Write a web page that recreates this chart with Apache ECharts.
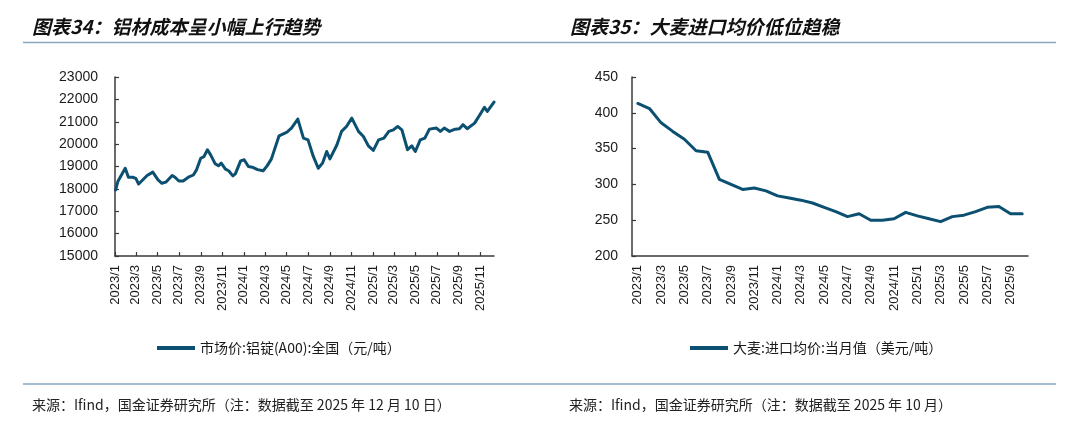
<!DOCTYPE html>
<html>
<head>
<meta charset="utf-8">
<script src="https://cdn.jsdelivr.net/npm/echarts@6/dist/echarts.min.js"></script>
<style>
html,body{margin:0;padding:0;background:#fff;}
#chart{width:1080px;height:426px;}
</style>
</head>
<body>
<div id="chart"></div>
<script>
// ---- Left chart: 市场价:铝锭(A00):全国（元/吨）
const alDates = ['2023-01-03','2023-01-09','2023-01-30','2023-02-08','2023-02-20','2023-03-01','2023-03-09','2023-04-02','2023-04-18','2023-05-03','2023-05-14','2023-05-25','2023-06-12','2023-06-20','2023-07-01','2023-07-13','2023-07-28','2023-08-11','2023-08-20','2023-09-01','2023-09-10','2023-09-20','2023-09-29','2023-10-12','2023-10-21','2023-10-29','2023-11-10','2023-11-19','2023-12-01','2023-12-08','2023-12-23','2024-01-02','2024-01-14','2024-01-25','2024-02-09','2024-02-25','2024-03-07','2024-03-19','2024-04-10','2024-05-01','2024-05-15','2024-06-02','2024-06-18','2024-07-01','2024-07-16','2024-07-30','2024-08-11','2024-08-23','2024-09-01','2024-09-21','2024-10-04','2024-10-18','2024-11-02','2024-11-21','2024-12-05','2024-12-19','2025-01-02','2025-01-17','2025-02-01','2025-02-15','2025-02-28','2025-03-12','2025-03-24','2025-04-09','2025-04-21','2025-05-01','2025-05-15','2025-05-28','2025-06-10','2025-06-30','2025-07-11','2025-07-22','2025-08-06','2025-08-22','2025-09-03','2025-09-13','2025-09-25','2025-10-16','2025-10-31','2025-11-13','2025-11-21','2025-12-10'];
const alValues = [17950,18330,18920,18520,18520,18470,18220,18600,18750,18400,18250,18300,18600,18520,18350,18350,18520,18620,18850,19370,19440,19750,19520,19120,19030,19150,18880,18810,18580,18670,19250,19300,19000,18970,18860,18810,19030,19330,20370,20520,20720,21120,20270,20190,19450,18920,19150,19670,19340,19970,20570,20790,21160,20570,20340,19920,19720,20190,20270,20570,20640,20790,20640,19750,19920,19670,20190,20270,20670,20720,20570,20720,20570,20670,20690,20870,20690,20940,21310,21650,21460,21880];
const alTickDates = ['2023-01-01','2023-03-01','2023-05-01','2023-07-01','2023-09-01','2023-11-01','2024-01-01','2024-03-01','2024-05-01','2024-07-01','2024-09-01','2024-11-01','2025-01-01','2025-03-01','2025-05-01','2025-07-01','2025-09-01','2025-11-01'];
const alRange = ['2023-01-01', '2025-12-10'];
const alName = '市场价:铝锭(A00):全国（元/吨）';

// ---- Right chart: 大麦:进口均价:当月值（美元/吨）
const barleyMonths = ['2023/1','2023/2','2023/3','2023/4','2023/5','2023/6','2023/7','2023/8','2023/9','2023/10','2023/11','2023/12','2024/1','2024/2','2024/3','2024/4','2024/5','2024/6','2024/7','2024/8','2024/9','2024/10','2024/11','2024/12','2025/1','2025/2','2025/3','2025/4','2025/5','2025/6','2025/7','2025/8','2025/9','2025/10'];
const barleyValues = [413,406,386,374,363,347,345,307,300,293,295,291,284,281,278,274,268,262,255,259,250,250,252,261,256,252,248,255,257,262,268,269,259,259];
const barleyName = '大麦:进口均价:当月值（美元/吨）';

const LINE_COLOR = '#0b4f71';
const AXIS_COLOR = '#3a3a3a';
const TEXT_COLOR = '#1a1a1a';
const RULE_COLOR = '#86a7c0';
const numFont = 'Liberation Sans, Arial, sans-serif';
const cjkFont = '"Noto Sans CJK SC", sans-serif';

function ts(s) {
  const p = s.split('-').map(Number);
  return new Date(p[0], p[1] - 1, p[2]).getTime();
}
function fmtMonth(v) {
  const d = new Date(v);
  return d.getFullYear() + '/' + (d.getMonth() + 1);
}
function plain(v) { return String(v); }

const alTicks = alTickDates.map(ts);

const chart = echarts.init(document.getElementById('chart'), null, {renderer: 'canvas'});

const option = {
  backgroundColor: '#fff',
  animation: false,
  title: [
    {text: '图表34：铝材成本呈小幅上行趋势', left: 27, top: 12,
     textStyle: {fontFamily: cjkFont, fontSize: 19, fontWeight: 'bold', fontStyle: 'italic', color: '#111'}},
    {text: '图表35：大麦进口均价低位趋稳', left: 565, top: 12,
     textStyle: {fontFamily: cjkFont, fontSize: 19, fontWeight: 'bold', fontStyle: 'italic', color: '#111'}},
    {text: '来源：Ifind，国金证券研究所（注：数据截至 2025 年 12 月 10 日）', left: 27, top: 393,
     textStyle: {fontFamily: cjkFont, fontSize: 14, fontWeight: 'normal', color: '#222'}},
    {text: '来源：Ifind，国金证券研究所（注：数据截至 2025 年 10 月）', left: 564, top: 393,
     textStyle: {fontFamily: cjkFont, fontSize: 14, fontWeight: 'normal', color: '#222'}}
  ],
  graphic: [
    {type: 'line', shape: {x1: 23, y1: 42.5, x2: 1056, y2: 42.5}, style: {stroke: RULE_COLOR, lineWidth: 1.5}, silent: true},
    {type: 'line', shape: {x1: 23, y1: 384, x2: 1056, y2: 384}, style: {stroke: RULE_COLOR, lineWidth: 1.5}, silent: true}
  ],
  legend: [
    {data: [alName], left: 152, top: 336, icon: 'rect', itemWidth: 38, itemHeight: 4, itemGap: 4,
     textStyle: {fontFamily: cjkFont, fontSize: 14, color: TEXT_COLOR}},
    {data: [barleyName], left: 685, top: 336, icon: 'rect', itemWidth: 38, itemHeight: 4, itemGap: 4,
     textStyle: {fontFamily: cjkFont, fontSize: 14, color: TEXT_COLOR}}
  ],
  grid: [
    {left: 115, right: 586, top: 77, bottom: 170, containLabel: false},
    {left: 632, right: 52, top: 77, bottom: 170, containLabel: false}
  ],
  xAxis: [
    {
      type: 'value', gridIndex: 0,
      min: ts(alRange[0]), max: ts(alRange[1]),
      axisLine: {lineStyle: {color: AXIS_COLOR, width: 1.5}},
      axisTick: {inside: true, length: 4, lineStyle: {color: AXIS_COLOR, width: 1.2}, customValues: alTicks},
      axisLabel: {rotate: 90, margin: 9, fontFamily: numFont, fontSize: 13, color: TEXT_COLOR,
                  customValues: alTicks, formatter: fmtMonth, showMinLabel: true},
      splitLine: {show: false}
    },
    {
      type: 'category', gridIndex: 1, data: barleyMonths, boundaryGap: true,
      axisLine: {lineStyle: {color: AXIS_COLOR, width: 1.5}},
      axisTick: {inside: true, length: 4, interval: 1, lineStyle: {color: AXIS_COLOR, width: 1.2}},
      axisLabel: {rotate: 90, margin: 9, interval: 1, fontFamily: numFont, fontSize: 13, color: TEXT_COLOR},
      splitLine: {show: false}
    }
  ],
  yAxis: [
    {
      type: 'value', gridIndex: 0, min: 15000, max: 23000, interval: 1000,
      axisLine: {show: true, lineStyle: {color: AXIS_COLOR, width: 1.5}},
      axisTick: {show: true, inside: true, length: 4, lineStyle: {color: AXIS_COLOR, width: 1.2}},
      axisLabel: {margin: 17, fontFamily: numFont, fontSize: 14, color: TEXT_COLOR, formatter: plain},
      splitLine: {show: false}
    },
    {
      type: 'value', gridIndex: 1, min: 200, max: 450, interval: 50,
      axisLine: {show: true, lineStyle: {color: AXIS_COLOR, width: 1.5}},
      axisTick: {show: true, inside: true, length: 4, lineStyle: {color: AXIS_COLOR, width: 1.2}},
      axisLabel: {margin: 14, fontFamily: numFont, fontSize: 14, color: TEXT_COLOR, formatter: plain},
      splitLine: {show: false}
    }
  ],
  series: [
    {
      name: alName, type: 'line', xAxisIndex: 0, yAxisIndex: 0,
      data: alDates.map((d, i) => [ts(d), alValues[i]]),
      symbol: 'none', smooth: false,
      lineStyle: {color: LINE_COLOR, width: 3, join: 'round', cap: 'round'},
      itemStyle: {color: LINE_COLOR}
    },
    {
      name: barleyName, type: 'line', xAxisIndex: 1, yAxisIndex: 1,
      data: barleyValues,
      symbol: 'none', smooth: false,
      lineStyle: {color: LINE_COLOR, width: 3, join: 'round', cap: 'round'},
      itemStyle: {color: LINE_COLOR}
    }
  ]
};
chart.setOption(option);
</script>
</body>
</html>
